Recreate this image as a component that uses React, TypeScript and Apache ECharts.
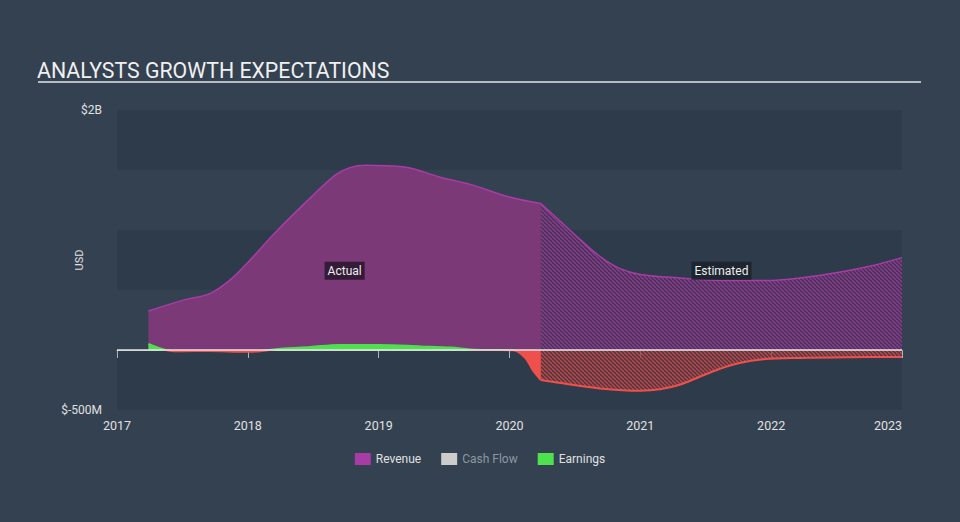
import React, { useEffect, useRef } from "react";
import * as echarts from "echarts";

const yearTicks = [2017, 2018, 2019, 2020, 2021, 2022, 2023];

const revenueActual: [number, number][] = [
  [2017.24, 0.325], [2017.52, 0.42], [2017.71, 0.47], [2017.86, 0.58],
  [2018.0, 0.73], [2018.21, 0.98], [2018.48, 1.27], [2018.67, 1.46],
  [2018.78, 1.52], [2018.9, 1.54], [2019.2, 1.525], [2019.47, 1.44],
  [2019.7, 1.38], [2020.0, 1.275], [2020.24, 1.22],
];

const revenueEstimated: [number, number][] = [
  [2020.24, 1.22], [2020.39, 1.07], [2020.54, 0.92], [2020.69, 0.78],
  [2020.84, 0.68], [2021.0, 0.63], [2021.3, 0.6], [2021.61, 0.58],
  [2022.0, 0.58], [2022.22, 0.6], [2022.53, 0.65], [2022.76, 0.7],
  [2023.0, 0.77],
];

const earningsActual: [number, number][] = [
  [2017.24, 0.05], [2017.37, 0.0], [2017.48, -0.01], [2017.71, -0.008],
  [2018.0, -0.015], [2018.09, -0.01], [2018.25, 0.01], [2018.48, 0.025],
  [2018.7, 0.042], [2019.0, 0.042], [2019.32, 0.03], [2019.55, 0.02],
  [2019.7, 0.005], [2019.85, 0.0], [2020.03, -0.002], [2020.12, -0.065],
  [2020.18, -0.17], [2020.24, -0.25],
];

const earningsEstimated: [number, number][] = [
  [2020.24, -0.25], [2020.39, -0.275], [2020.69, -0.32], [2021.0, -0.34],
  [2021.15, -0.328], [2021.3, -0.29], [2021.45, -0.225], [2021.6, -0.16],
  [2021.75, -0.11], [2021.94, -0.078], [2022.22, -0.066], [2022.6, -0.06],
  [2023.0, -0.058],
];

const cashFlow: [number, number][] = [];

const labelActual: [number, number] = [2018.74, 0.66];
const labelEstimated: [number, number] = [2021.62, 0.66];

function makeHatch(bg: string, stripe: string) {
  const s = 4;
  const c = document.createElement("canvas");
  c.width = s;
  c.height = s;
  const ctx = c.getContext("2d")!;
  ctx.fillStyle = bg;
  ctx.fillRect(0, 0, s, s);
  ctx.strokeStyle = stripe;
  ctx.lineWidth = 1.3;
  for (const o of [-s, 0, s]) {
    ctx.beginPath();
    ctx.moveTo(o, 0);
    ctx.lineTo(o + s, s);
    ctx.stroke();
  }
  return { image: c.toDataURL(), repeat: "repeat", imageWidth: s, imageHeight: s } as any;
}

export default function App() {
  const ref = useRef<HTMLDivElement>(null);
  useEffect(() => {
    if (!ref.current) return;
    const chart = echarts.init(ref.current, undefined, { renderer: "svg" });
    const font = "Roboto, 'Noto Sans', sans-serif";
    const purple = "#a83ca6";
    const purpleFill = "#7b3a77";
    const green = "#4fe04f";
    const red = "#f0504c";
    const purpleHatch = makeHatch("rgba(80,50,90,0.6)", "rgba(150,58,150,0.95)");
    const redHatch = makeHatch("rgba(90,58,66,0.6)", "rgba(205,72,70,0.95)");

    const labelStyle = (text: string, bg: string) => ({
      show: true,
      position: "inside",
      formatter: text,
      color: "#eeeeee",
      fontSize: 12,
      fontFamily: font,
      backgroundColor: bg,
      padding: [3, 3, 3, 3],
    });

    chart.setOption({
      animation: false,
      backgroundColor: "#334150",
      textStyle: { fontFamily: font },
      title: {
        text: "ANALYSTS GROWTH EXPECTATIONS",
        left: 32,
        top: 55,
        textStyle: { color: "#f0f0f0", fontSize: 21.3, fontWeight: "normal", fontFamily: font },
      },
      graphic: [
        {
          type: "line",
          shape: { x1: 38, y1: 82, x2: 921, y2: 82 },
          style: { stroke: "#b4bcc4", lineWidth: 2 },
        },
      ],
      grid: { left: 117, right: 58, top: 110, bottom: 112 },
      legend: {
        bottom: 52,
        left: "center",
        itemWidth: 16,
        itemHeight: 12,
        itemGap: 20,
        icon: "rect",
        textStyle: { color: "#e0e0e0", fontSize: 12, fontFamily: font },
        data: [
          { name: "Revenue", itemStyle: { color: "#a83ca6" } },
          { name: "Cash Flow", itemStyle: { color: "#cccccc" }, textStyle: { color: "#8e98a2" } },
          { name: "Earnings", itemStyle: { color: green } },
        ],
      },
      visualMap: {
        show: false,
        type: "piecewise",
        seriesIndex: 3,
        dimension: 1,
        pieces: [
          { gte: -1, lt: 0, color: red },
          { gte: 0, lte: 1, color: green },
        ],
        outOfRange: { color: red },
      },
      xAxis: {
        type: "value",
        min: yearTicks[0],
        max: yearTicks[yearTicks.length - 1],
        interval: 1,
        axisLine: { show: true, lineStyle: { color: "#a8b2bc", width: 1 } },
        axisTick: { show: true, length: 8, lineStyle: { color: "#a8b2bc" } },
        axisLabel: {
          color: "#e0e0e0",
          fontSize: 12.5,
          margin: 9,
          fontFamily: font,
          alignMaxLabel: "right",
          formatter: (v: number) => String(v),
        },
        splitLine: { show: false },
      },
      yAxis: {
        type: "value",
        min: -0.5,
        max: 2,
        interval: 0.5,
        name: "USD",
        nameLocation: "middle",
        nameGap: 32,
        nameMoveOverlap: false,
        nameTextStyle: { color: "#e0e0e0", fontSize: 11, fontFamily: font },
        axisLine: { show: false },
        axisTick: { show: false },
        axisLabel: {
          color: "#e0e0e0",
          fontSize: 12,
          margin: 15,
          fontFamily: font,
          formatter: (v: number) => (v === 2 ? "$2B" : v === -0.5 ? "$-500M" : ""),
        },
        splitLine: { show: false },
        splitArea: { show: true, areaStyle: { color: ["#2e3b4a", "#334150"] } },
      },
      series: [
        {
          name: "Revenue",
          type: "line",
          data: revenueActual,
          smooth: 0.35,
          showSymbol: false,
          lineStyle: { color: purple, width: 1.5 },
          itemStyle: { color: purple },
          areaStyle: { color: purpleFill, opacity: 1 },
          markPoint: {
            symbol: "rect",
            symbolSize: 1,
            itemStyle: { color: "transparent" },
            label: labelStyle("Actual", "rgba(40,22,44,0.85)"),
            data: [{ name: "Actual", coord: labelActual, value: 0 }],
          },
          z: 2,
        },
        {
          name: "Revenue",
          type: "line",
          data: revenueEstimated,
          smooth: 0.35,
          showSymbol: false,
          lineStyle: { color: purple, width: 1.5 },
          itemStyle: { color: purple },
          areaStyle: { color: purpleHatch, opacity: 1 },
          markPoint: {
            symbol: "rect",
            symbolSize: 1,
            itemStyle: { color: "transparent" },
            label: labelStyle("Estimated", "rgba(28,36,46,0.9)"),
            data: [{ name: "Estimated", coord: labelEstimated, value: 0 }],
          },
          z: 2,
        },
        {
          name: "Cash Flow",
          type: "line",
          data: cashFlow,
          showSymbol: false,
          itemStyle: { color: "#cccccc" },
          lineStyle: { color: "#cccccc" },
        },
        {
          name: "Earnings",
          type: "line",
          data: earningsActual,
          smooth: 0.35,
          showSymbol: false,
          lineStyle: { width: 2 },
          itemStyle: { color: green },
          areaStyle: { opacity: 1 },
          z: 3,
        },
        {
          name: "Earnings",
          type: "line",
          data: earningsEstimated,
          smooth: 0.35,
          showSymbol: false,
          lineStyle: { color: red, width: 2 },
          itemStyle: { color: red },
          areaStyle: { color: redHatch, opacity: 1 },
          markLine: {
            silent: true,
            symbol: "none",
            label: { show: false },
            lineStyle: { color: "#e6e6e6", width: 1.5, type: "solid" },
            data: [{ yAxis: 0 }],
          },
          z: 4,
        },
      ],
    });
    return () => chart.dispose();
  }, []);
  return (
    <div
      ref={ref}
      style={{ position: "absolute", left: 0, top: 0, width: 960, height: 522 }}
    />
  );
}
